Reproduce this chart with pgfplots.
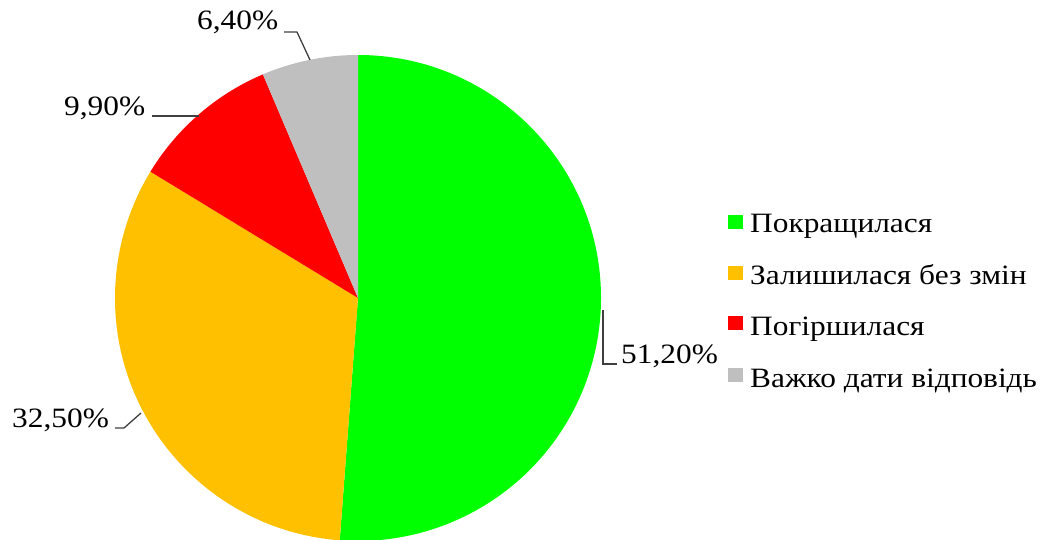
\documentclass[border=0pt]{standalone}
\usepackage{pgfplots}
\pgfplotsset{compat=1.18}
\usepackage{fontspec}
\setmainfont{Liberation Serif}[FakeStretch=1.12]
\definecolor{cGreen}{HTML}{00FF00}
\definecolor{cOrange}{HTML}{FFC000}
\definecolor{cRed}{HTML}{FF0000}
\definecolor{cGrey}{HTML}{BFBFBF}
\definecolor{cLine}{HTML}{404040}
% values (percent)
\def\vA{51.2}\def\vB{32.5}\def\vC{9.9}\def\vD{6.4}
\pgfmathsetmacro{\aZ}{90}
\pgfmathsetmacro{\aA}{90-3.6*\vA}
\pgfmathsetmacro{\aB}{\aA-3.6*\vB}
\pgfmathsetmacro{\aC}{\aB-3.6*\vC}
\pgfmathsetmacro{\aD}{\aC-3.6*\vD}
\def\cx{358}\def\cy{298}\def\R{243pt}
\tikzset{lbl/.style={font=\fontsize{28}{32}\selectfont, text=black, inner sep=0pt, anchor=base west}}
\begin{document}
\begin{tikzpicture}
\path[use as bounding box] (0,0) rectangle (1057pt,540pt);
\begin{axis}[
  at={(0,0)}, anchor=south west,
  x=1pt, y=1pt, xmin=0, xmax=1057, ymin=0, ymax=540,
  y dir=reverse, hide axis, scale only axis, clip=true,
]
\fill[cGreen]  (axis cs:\cx,\cy) -- ++(\aZ:\R) arc[start angle=\aZ, end angle=\aA, radius=\R] -- cycle;
\fill[cOrange] (axis cs:\cx,\cy) -- ++(\aA:\R) arc[start angle=\aA, end angle=\aB, radius=\R] -- cycle;
\fill[cRed]    (axis cs:\cx,\cy) -- ++(\aB:\R) arc[start angle=\aB, end angle=\aC, radius=\R] -- cycle;
\fill[cGrey]   (axis cs:\cx,\cy) -- ++(\aC:\R) arc[start angle=\aC, end angle=\aD, radius=\R] -- cycle;
% leader lines
\draw[cLine, line width=1.3pt] (axis cs:284,32) -- (axis cs:297,32) -- (axis cs:310,60);
\draw[cLine, line width=1.3pt] (axis cs:152,116) -- (axis cs:199,116);
\draw[cLine, line width=1.3pt] (axis cs:603,310) -- (axis cs:603,364) -- (axis cs:617,364);
\draw[cLine, line width=1.3pt] (axis cs:115,428) -- (axis cs:124,428) -- (axis cs:141,413);
% data labels
\node[lbl] at (axis cs:197,30) {6,40\%};
\node[lbl] at (axis cs:64,116) {9,90\%};
\node[lbl] at (axis cs:621,363) {51,20\%};
\node[lbl] at (axis cs:12,427) {32,50\%};
% legend
\fill[cGreen]  (axis cs:728,215) rectangle (axis cs:743,229);
\fill[cOrange] (axis cs:728,266) rectangle (axis cs:743,280);
\fill[cRed]    (axis cs:728,316) rectangle (axis cs:743,330);
\fill[cGrey]   (axis cs:728,368) rectangle (axis cs:743,382);
\node[lbl] at (axis cs:750,233) {Покращилася};
\node[lbl] at (axis cs:750,284) {Залишилася без змін};
\node[lbl] at (axis cs:750,335) {Погіршилася};
\node[lbl] at (axis cs:750,387) {Важко дати відповідь};
\end{axis}
\end{tikzpicture}
\end{document}
